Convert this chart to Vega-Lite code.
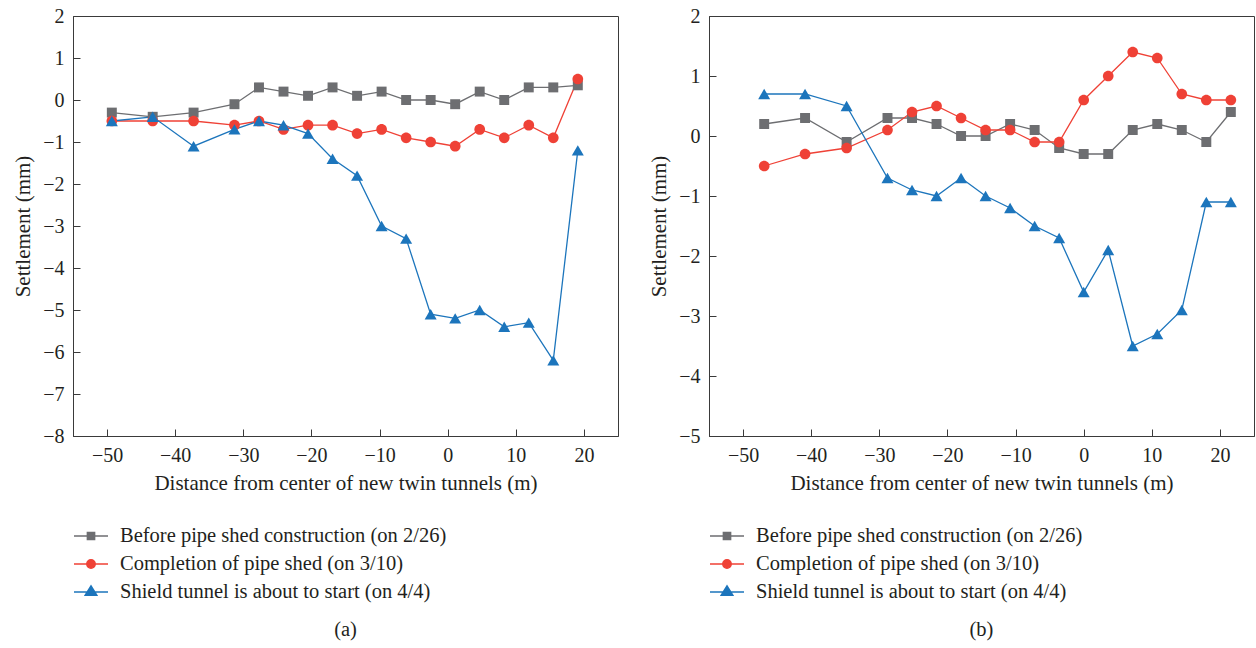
{
  "$schema": "https://vega.github.io/schema/vega-lite/v6.json",
  "padding": {"left": 12, "top": 5, "right": 2, "bottom": 5},
  "background": "white",
  "config": {
    "view": {"stroke": "#3a3a3a", "strokeWidth": 1},
    "axis": {
      "labelFont": "Liberation Serif", "labelFontSize": 20, "labelColor": "#231f20",
      "titleFont": "Liberation Serif", "titleFontSize": 21, "titleFontWeight": "normal", "titleColor": "#231f20",
      "domainColor": "#3a3a3a", "tickColor": "#3a3a3a", "tickSize": -7, "labelPadding": 16, "grid": false, "format": "d"
    },
    "legend": {
      "orient": "none", "legendX": 7, "legendY": 509, "direction": "vertical", "title": null,
      "labelFont": "Liberation Serif", "labelFontSize": 20.5, "labelColor": "#231f20", "labelLimit": 600,
      "symbolSize": 400, "labelOffset": 18, "rowPadding": 6, "padding": 0,
      "symbolStrokeWidth": 1.5, "symbolOpacity": 1
    },
    "title": {"font": "Liberation Serif", "fontSize": 20.5, "fontWeight": "normal", "color": "#231f20"}
  },
  "datasets": {
    "pts": [
      {"panel": "a", "series": "Before pipe shed construction (on 2/26)", "x": -49.3, "y": -0.3},
      {"panel": "a", "series": "Before pipe shed construction (on 2/26)", "x": -43.3, "y": -0.4},
      {"panel": "a", "series": "Before pipe shed construction (on 2/26)", "x": -37.3, "y": -0.3},
      {"panel": "a", "series": "Before pipe shed construction (on 2/26)", "x": -31.3, "y": -0.1},
      {"panel": "a", "series": "Before pipe shed construction (on 2/26)", "x": -27.7, "y": 0.3},
      {"panel": "a", "series": "Before pipe shed construction (on 2/26)", "x": -24.1, "y": 0.2},
      {"panel": "a", "series": "Before pipe shed construction (on 2/26)", "x": -20.5, "y": 0.1},
      {"panel": "a", "series": "Before pipe shed construction (on 2/26)", "x": -16.9, "y": 0.3},
      {"panel": "a", "series": "Before pipe shed construction (on 2/26)", "x": -13.3, "y": 0.1},
      {"panel": "a", "series": "Before pipe shed construction (on 2/26)", "x": -9.7, "y": 0.2},
      {"panel": "a", "series": "Before pipe shed construction (on 2/26)", "x": -6.1, "y": 0.0},
      {"panel": "a", "series": "Before pipe shed construction (on 2/26)", "x": -2.5, "y": 0.0},
      {"panel": "a", "series": "Before pipe shed construction (on 2/26)", "x": 1.1, "y": -0.1},
      {"panel": "a", "series": "Before pipe shed construction (on 2/26)", "x": 4.7, "y": 0.2},
      {"panel": "a", "series": "Before pipe shed construction (on 2/26)", "x": 8.3, "y": 0.0},
      {"panel": "a", "series": "Before pipe shed construction (on 2/26)", "x": 11.9, "y": 0.3},
      {"panel": "a", "series": "Before pipe shed construction (on 2/26)", "x": 15.5, "y": 0.3},
      {"panel": "a", "series": "Before pipe shed construction (on 2/26)", "x": 19.1, "y": 0.35},
      {"panel": "a", "series": "Completion of pipe shed (on 3/10)", "x": -49.3, "y": -0.5},
      {"panel": "a", "series": "Completion of pipe shed (on 3/10)", "x": -43.3, "y": -0.5},
      {"panel": "a", "series": "Completion of pipe shed (on 3/10)", "x": -37.3, "y": -0.5},
      {"panel": "a", "series": "Completion of pipe shed (on 3/10)", "x": -31.3, "y": -0.6},
      {"panel": "a", "series": "Completion of pipe shed (on 3/10)", "x": -27.7, "y": -0.5},
      {"panel": "a", "series": "Completion of pipe shed (on 3/10)", "x": -24.1, "y": -0.7},
      {"panel": "a", "series": "Completion of pipe shed (on 3/10)", "x": -20.5, "y": -0.6},
      {"panel": "a", "series": "Completion of pipe shed (on 3/10)", "x": -16.9, "y": -0.6},
      {"panel": "a", "series": "Completion of pipe shed (on 3/10)", "x": -13.3, "y": -0.8},
      {"panel": "a", "series": "Completion of pipe shed (on 3/10)", "x": -9.7, "y": -0.7},
      {"panel": "a", "series": "Completion of pipe shed (on 3/10)", "x": -6.1, "y": -0.9},
      {"panel": "a", "series": "Completion of pipe shed (on 3/10)", "x": -2.5, "y": -1.0},
      {"panel": "a", "series": "Completion of pipe shed (on 3/10)", "x": 1.1, "y": -1.1},
      {"panel": "a", "series": "Completion of pipe shed (on 3/10)", "x": 4.7, "y": -0.7},
      {"panel": "a", "series": "Completion of pipe shed (on 3/10)", "x": 8.3, "y": -0.9},
      {"panel": "a", "series": "Completion of pipe shed (on 3/10)", "x": 11.9, "y": -0.6},
      {"panel": "a", "series": "Completion of pipe shed (on 3/10)", "x": 15.5, "y": -0.9},
      {"panel": "a", "series": "Completion of pipe shed (on 3/10)", "x": 19.1, "y": 0.5},
      {"panel": "a", "series": "Shield tunnel is about to start (on 4/4)", "x": -49.3, "y": -0.5},
      {"panel": "a", "series": "Shield tunnel is about to start (on 4/4)", "x": -43.3, "y": -0.4},
      {"panel": "a", "series": "Shield tunnel is about to start (on 4/4)", "x": -37.3, "y": -1.1},
      {"panel": "a", "series": "Shield tunnel is about to start (on 4/4)", "x": -31.3, "y": -0.7},
      {"panel": "a", "series": "Shield tunnel is about to start (on 4/4)", "x": -27.7, "y": -0.5},
      {"panel": "a", "series": "Shield tunnel is about to start (on 4/4)", "x": -24.1, "y": -0.6},
      {"panel": "a", "series": "Shield tunnel is about to start (on 4/4)", "x": -20.5, "y": -0.8},
      {"panel": "a", "series": "Shield tunnel is about to start (on 4/4)", "x": -16.9, "y": -1.4},
      {"panel": "a", "series": "Shield tunnel is about to start (on 4/4)", "x": -13.3, "y": -1.8},
      {"panel": "a", "series": "Shield tunnel is about to start (on 4/4)", "x": -9.7, "y": -3.0},
      {"panel": "a", "series": "Shield tunnel is about to start (on 4/4)", "x": -6.1, "y": -3.3},
      {"panel": "a", "series": "Shield tunnel is about to start (on 4/4)", "x": -2.5, "y": -5.1},
      {"panel": "a", "series": "Shield tunnel is about to start (on 4/4)", "x": 1.1, "y": -5.2},
      {"panel": "a", "series": "Shield tunnel is about to start (on 4/4)", "x": 4.7, "y": -5.0},
      {"panel": "a", "series": "Shield tunnel is about to start (on 4/4)", "x": 8.3, "y": -5.4},
      {"panel": "a", "series": "Shield tunnel is about to start (on 4/4)", "x": 11.9, "y": -5.3},
      {"panel": "a", "series": "Shield tunnel is about to start (on 4/4)", "x": 15.5, "y": -6.2},
      {"panel": "a", "series": "Shield tunnel is about to start (on 4/4)", "x": 19.1, "y": -1.2},
      {"panel": "b", "series": "Before pipe shed construction (on 2/26)", "x": -46.9, "y": 0.2},
      {"panel": "b", "series": "Before pipe shed construction (on 2/26)", "x": -40.9, "y": 0.3},
      {"panel": "b", "series": "Before pipe shed construction (on 2/26)", "x": -34.8, "y": -0.1},
      {"panel": "b", "series": "Before pipe shed construction (on 2/26)", "x": -28.8, "y": 0.3},
      {"panel": "b", "series": "Before pipe shed construction (on 2/26)", "x": -25.2, "y": 0.3},
      {"panel": "b", "series": "Before pipe shed construction (on 2/26)", "x": -21.6, "y": 0.2},
      {"panel": "b", "series": "Before pipe shed construction (on 2/26)", "x": -18.0, "y": 0.0},
      {"panel": "b", "series": "Before pipe shed construction (on 2/26)", "x": -14.4, "y": 0.0},
      {"panel": "b", "series": "Before pipe shed construction (on 2/26)", "x": -10.8, "y": 0.2},
      {"panel": "b", "series": "Before pipe shed construction (on 2/26)", "x": -7.2, "y": 0.1},
      {"panel": "b", "series": "Before pipe shed construction (on 2/26)", "x": -3.6, "y": -0.2},
      {"panel": "b", "series": "Before pipe shed construction (on 2/26)", "x": 0.0, "y": -0.3},
      {"panel": "b", "series": "Before pipe shed construction (on 2/26)", "x": 3.6, "y": -0.3},
      {"panel": "b", "series": "Before pipe shed construction (on 2/26)", "x": 7.2, "y": 0.1},
      {"panel": "b", "series": "Before pipe shed construction (on 2/26)", "x": 10.8, "y": 0.2},
      {"panel": "b", "series": "Before pipe shed construction (on 2/26)", "x": 14.4, "y": 0.1},
      {"panel": "b", "series": "Before pipe shed construction (on 2/26)", "x": 18.0, "y": -0.1},
      {"panel": "b", "series": "Before pipe shed construction (on 2/26)", "x": 21.6, "y": 0.4},
      {"panel": "b", "series": "Completion of pipe shed (on 3/10)", "x": -46.9, "y": -0.5},
      {"panel": "b", "series": "Completion of pipe shed (on 3/10)", "x": -40.9, "y": -0.3},
      {"panel": "b", "series": "Completion of pipe shed (on 3/10)", "x": -34.8, "y": -0.2},
      {"panel": "b", "series": "Completion of pipe shed (on 3/10)", "x": -28.8, "y": 0.1},
      {"panel": "b", "series": "Completion of pipe shed (on 3/10)", "x": -25.2, "y": 0.4},
      {"panel": "b", "series": "Completion of pipe shed (on 3/10)", "x": -21.6, "y": 0.5},
      {"panel": "b", "series": "Completion of pipe shed (on 3/10)", "x": -18.0, "y": 0.3},
      {"panel": "b", "series": "Completion of pipe shed (on 3/10)", "x": -14.4, "y": 0.1},
      {"panel": "b", "series": "Completion of pipe shed (on 3/10)", "x": -10.8, "y": 0.1},
      {"panel": "b", "series": "Completion of pipe shed (on 3/10)", "x": -7.2, "y": -0.1},
      {"panel": "b", "series": "Completion of pipe shed (on 3/10)", "x": -3.6, "y": -0.1},
      {"panel": "b", "series": "Completion of pipe shed (on 3/10)", "x": 0.0, "y": 0.6},
      {"panel": "b", "series": "Completion of pipe shed (on 3/10)", "x": 3.6, "y": 1.0},
      {"panel": "b", "series": "Completion of pipe shed (on 3/10)", "x": 7.2, "y": 1.4},
      {"panel": "b", "series": "Completion of pipe shed (on 3/10)", "x": 10.8, "y": 1.3},
      {"panel": "b", "series": "Completion of pipe shed (on 3/10)", "x": 14.4, "y": 0.7},
      {"panel": "b", "series": "Completion of pipe shed (on 3/10)", "x": 18.0, "y": 0.6},
      {"panel": "b", "series": "Completion of pipe shed (on 3/10)", "x": 21.6, "y": 0.6},
      {"panel": "b", "series": "Shield tunnel is about to start (on 4/4)", "x": -46.9, "y": 0.7},
      {"panel": "b", "series": "Shield tunnel is about to start (on 4/4)", "x": -40.9, "y": 0.7},
      {"panel": "b", "series": "Shield tunnel is about to start (on 4/4)", "x": -34.8, "y": 0.5},
      {"panel": "b", "series": "Shield tunnel is about to start (on 4/4)", "x": -28.8, "y": -0.7},
      {"panel": "b", "series": "Shield tunnel is about to start (on 4/4)", "x": -25.2, "y": -0.9},
      {"panel": "b", "series": "Shield tunnel is about to start (on 4/4)", "x": -21.6, "y": -1.0},
      {"panel": "b", "series": "Shield tunnel is about to start (on 4/4)", "x": -18.0, "y": -0.7},
      {"panel": "b", "series": "Shield tunnel is about to start (on 4/4)", "x": -14.4, "y": -1.0},
      {"panel": "b", "series": "Shield tunnel is about to start (on 4/4)", "x": -10.8, "y": -1.2},
      {"panel": "b", "series": "Shield tunnel is about to start (on 4/4)", "x": -7.2, "y": -1.5},
      {"panel": "b", "series": "Shield tunnel is about to start (on 4/4)", "x": -3.6, "y": -1.7},
      {"panel": "b", "series": "Shield tunnel is about to start (on 4/4)", "x": 0.0, "y": -2.6},
      {"panel": "b", "series": "Shield tunnel is about to start (on 4/4)", "x": 3.6, "y": -1.9},
      {"panel": "b", "series": "Shield tunnel is about to start (on 4/4)", "x": 7.2, "y": -3.5},
      {"panel": "b", "series": "Shield tunnel is about to start (on 4/4)", "x": 10.8, "y": -3.3},
      {"panel": "b", "series": "Shield tunnel is about to start (on 4/4)", "x": 14.4, "y": -2.9},
      {"panel": "b", "series": "Shield tunnel is about to start (on 4/4)", "x": 18.0, "y": -1.1},
      {"panel": "b", "series": "Shield tunnel is about to start (on 4/4)", "x": 21.6, "y": -1.1}
    ]
  },
  "spacing": 29,
  "resolve": {"scale": {"color": "independent", "shape": "independent"}},
  "hconcat": [
    {
      "width": 545, "height": 420,
      "title": {"text": "(a)", "orient": "bottom", "offset": 17},
      "encoding": {
        "x": {"field": "x", "type": "quantitative", "scale": {"domain": [-55, 25], "nice": false},
              "axis": {"values": [-50, -40, -30, -20, -10, 0, 10, 20], "title": "Distance from center of new twin tunnels (m)", "titlePadding": 7}},
        "y": {"field": "y", "type": "quantitative", "scale": {"domain": [-8, 2], "nice": false},
              "axis": {"values": [-8, -7, -6, -5, -4, -3, -2, -1, 0, 1, 2], "title": "Settlement (mm)", "titlePadding": 9}}
      },
      "layer": [
        {
          "data": {"values": [{}]},
          "mark": {"type": "rule", "color": "#4d4d4f", "strokeWidth": 1.5},
          "encoding": {"x": null, "y": {"datum": 0, "type": "quantitative"}}
        },
        {
          "data": {"name": "pts"},
          "transform": [{"filter": "datum.panel === 'a' && datum.series === 'Before pipe shed construction (on 2/26)'"}],
          "mark": {"type": "line", "strokeWidth": 1.3, "color": "#6d6e71"},
          "encoding": {}
        },
        {
          "data": {"name": "pts"},
          "transform": [{"filter": "datum.panel === 'a' && datum.series === 'Completion of pipe shed (on 3/10)'"}],
          "mark": {"type": "line", "strokeWidth": 1.3, "color": "#ef4136"},
          "encoding": {}
        },
        {
          "data": {"name": "pts"},
          "transform": [{"filter": "datum.panel === 'a' && datum.series === 'Shield tunnel is about to start (on 4/4)'"}],
          "mark": {"type": "line", "strokeWidth": 1.3, "color": "#1c75bc"},
          "encoding": {}
        },
        {
          "data": {"name": "pts"},
          "transform": [{"filter": "datum.panel === 'a'"}],
          "mark": {"type": "point", "filled": true, "opacity": 1, "size": 144},
          "encoding": {
            "color": {"field": "series", "type": "nominal",
                      "scale": {"domain": ["Before pipe shed construction (on 2/26)", "Completion of pipe shed (on 3/10)", "Shield tunnel is about to start (on 4/4)"], "range": ["#6d6e71", "#ef4136", "#1c75bc"]},
                      "legend": {
                        "symbolType": {"expr": "datum.value === 'Before pipe shed construction (on 2/26)' ? 'M-1.7,0H1.7M-0.36,-0.36H0.36V0.36H-0.36Z' : datum.value === 'Completion of pipe shed (on 3/10)' ? 'M-1.7,0H1.7M0.42,0A0.42,0.42,0,1,1,-0.42,0A0.42,0.42,0,1,1,0.42,0Z' : 'M-1.7,0H1.7M0,-0.6L0.58,0.32L-0.58,0.32Z'"},
                        "symbolStrokeColor": {"expr": "datum.value === 'Before pipe shed construction (on 2/26)' ? '#6d6e71' : datum.value === 'Completion of pipe shed (on 3/10)' ? '#ef4136' : '#1c75bc'"}
                      }},
            "shape": {"field": "series", "type": "nominal",
                      "scale": {"domain": ["Shield tunnel is about to start (on 4/4)", "Before pipe shed construction (on 2/26)", "Completion of pipe shed (on 3/10)"],
                                "range": ["triangle-up", "M-0.83,-0.83H0.83V0.83H-0.83Z", "M0.89,0A0.89,0.89,0,1,1,-0.89,0A0.89,0.89,0,1,1,0.89,0Z"]},
                      "legend": null}
          }
        }
      ]
    },
    {
      "width": 545, "height": 420,
      "title": {"text": "(b)", "orient": "bottom", "offset": 17},
      "encoding": {
        "x": {"field": "x", "type": "quantitative", "scale": {"domain": [-55, 25], "nice": false},
              "axis": {"values": [-50, -40, -30, -20, -10, 0, 10, 20], "title": "Distance from center of new twin tunnels (m)", "titlePadding": 7}},
        "y": {"field": "y", "type": "quantitative", "scale": {"domain": [-5, 2], "nice": false},
              "axis": {"values": [-5, -4, -3, -2, -1, 0, 1, 2], "title": "Settlement (mm)", "titlePadding": 9}}
      },
      "layer": [
        {
          "data": {"values": [{}]},
          "mark": {"type": "rule", "color": "#4d4d4f", "strokeWidth": 1.5},
          "encoding": {"x": null, "y": {"datum": 0, "type": "quantitative"}}
        },
        {
          "data": {"name": "pts"},
          "transform": [{"filter": "datum.panel === 'b' && datum.series === 'Before pipe shed construction (on 2/26)'"}],
          "mark": {"type": "line", "strokeWidth": 1.3, "color": "#6d6e71"},
          "encoding": {}
        },
        {
          "data": {"name": "pts"},
          "transform": [{"filter": "datum.panel === 'b' && datum.series === 'Completion of pipe shed (on 3/10)'"}],
          "mark": {"type": "line", "strokeWidth": 1.3, "color": "#ef4136"},
          "encoding": {}
        },
        {
          "data": {"name": "pts"},
          "transform": [{"filter": "datum.panel === 'b' && datum.series === 'Shield tunnel is about to start (on 4/4)'"}],
          "mark": {"type": "line", "strokeWidth": 1.3, "color": "#1c75bc"},
          "encoding": {}
        },
        {
          "data": {"name": "pts"},
          "transform": [{"filter": "datum.panel === 'b'"}],
          "mark": {"type": "point", "filled": true, "opacity": 1, "size": 144},
          "encoding": {
            "color": {"field": "series", "type": "nominal",
                      "scale": {"domain": ["Before pipe shed construction (on 2/26)", "Completion of pipe shed (on 3/10)", "Shield tunnel is about to start (on 4/4)"], "range": ["#6d6e71", "#ef4136", "#1c75bc"]},
                      "legend": {
                        "symbolType": {"expr": "datum.value === 'Before pipe shed construction (on 2/26)' ? 'M-1.7,0H1.7M-0.36,-0.36H0.36V0.36H-0.36Z' : datum.value === 'Completion of pipe shed (on 3/10)' ? 'M-1.7,0H1.7M0.42,0A0.42,0.42,0,1,1,-0.42,0A0.42,0.42,0,1,1,0.42,0Z' : 'M-1.7,0H1.7M0,-0.6L0.58,0.32L-0.58,0.32Z'"},
                        "symbolStrokeColor": {"expr": "datum.value === 'Before pipe shed construction (on 2/26)' ? '#6d6e71' : datum.value === 'Completion of pipe shed (on 3/10)' ? '#ef4136' : '#1c75bc'"}
                      }},
            "shape": {"field": "series", "type": "nominal",
                      "scale": {"domain": ["Shield tunnel is about to start (on 4/4)", "Before pipe shed construction (on 2/26)", "Completion of pipe shed (on 3/10)"],
                                "range": ["triangle-up", "M-0.83,-0.83H0.83V0.83H-0.83Z", "M0.89,0A0.89,0.89,0,1,1,-0.89,0A0.89,0.89,0,1,1,0.89,0Z"]},
                      "legend": null}
          }
        }
      ]
    }
  ]
}
